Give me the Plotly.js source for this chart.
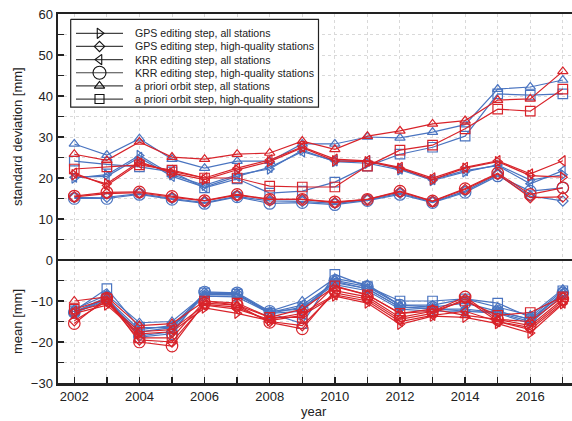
<!DOCTYPE html>
<html>
<head>
<meta charset="utf-8">
<script src="https://cdn.plot.ly/plotly-3.0.1.min.js"></script>
<style>
  html, body { margin: 0; padding: 0; background: #fff; }
  #chart { width: 572px; height: 421px; }
</style>
</head>
<body>
<div id="chart"></div>
<script>
// ---- data -------------------------------------------------------------
const years = [2002, 2003, 2004, 2005, 2006, 2007, 2008, 2009, 2010, 2011, 2012, 2013, 2014, 2015, 2016, 2017];
const xTickVals = [2002, 2004, 2006, 2008, 2010, 2012, 2014, 2016];

// standard deviation [mm]
const sdGpsAllBlue = [20.0, 20.8, 25.5, 20.8, 18.2, 20.8, 22.2, 26.8, 24.0, 23.6, 22.0, 19.4, 21.5, 23.2, 19.5, 20.8];
const sdGpsAllRed  = [20.8, 18.6, 24.0, 21.2, 19.6, 22.0, 24.0, 27.4, 24.2, 24.0, 22.4, 19.6, 22.4, 24.0, 20.6, 20.2];
const sdGpsHqBlue  = [15.2, 15.3, 16.2, 15.0, 14.0, 15.5, 14.4, 14.3, 13.8, 14.6, 16.3, 14.1, 16.8, 20.8, 15.6, 14.4];
const sdGpsHqRed   = [15.4, 16.2, 16.4, 15.3, 14.4, 15.8, 14.8, 14.8, 14.0, 14.8, 16.6, 14.3, 17.2, 21.0, 15.2, 15.4];
const sdKrrAllBlue = [20.2, 20.4, 25.0, 20.4, 17.8, 20.4, 22.6, 26.4, 24.2, 24.2, 22.2, 19.6, 21.8, 23.0, 18.6, 21.8];
const sdKrrAllRed  = [21.2, 18.2, 23.6, 21.6, 20.0, 22.4, 24.4, 27.6, 24.6, 24.2, 22.6, 20.0, 22.6, 24.2, 21.0, 24.2];
const sdKrrHqBlue  = [15.0, 15.0, 16.0, 14.8, 13.8, 15.4, 13.8, 14.0, 13.5, 14.5, 16.0, 14.0, 16.5, 20.5, 16.8, 17.6];
const sdKrrHqRed   = [15.6, 16.5, 16.6, 15.5, 14.5, 16.0, 14.8, 14.8, 14.2, 14.8, 16.8, 14.4, 17.4, 21.2, 16.0, 17.6];
const sdApAllBlue  = [28.3, 25.6, 29.6, 24.6, 22.4, 24.1, 24.1, 28.3, 28.3, 30.0, 29.8, 31.2, 33.0, 41.7, 42.2, 43.9];
const sdApAllRed   = [25.8, 24.3, 28.8, 25.1, 24.6, 25.8, 26.1, 29.0, 27.0, 30.2, 31.5, 33.2, 34.0, 39.0, 39.3, 46.0];
const sdApHqBlue   = [24.1, 23.3, 22.7, 21.5, 17.6, 19.8, 16.3, 16.8, 19.0, 22.9, 25.8, 27.5, 30.2, 40.5, 40.2, 40.5];
const sdApHqRed    = [22.2, 22.7, 23.2, 21.9, 20.0, 20.0, 18.0, 17.8, 17.8, 22.9, 26.8, 28.0, 32.0, 36.8, 36.3, 41.7];

// mean [mm]
const mnGpsAllBlue = [-12.8, -10.0, -17.5, -16.5, -8.8, -9.0, -13.0, -11.5, -6.0, -7.5, -12.0, -12.5, -12.5, -13.0, -15.5, -8.5];
const mnGpsAllRed  = [-13.0, -11.0, -18.0, -17.5, -11.7, -13.0, -14.8, -13.5, -8.8, -10.5, -15.7, -13.7, -14.0, -15.5, -17.8, -10.7];
const mnGpsHqBlue  = [-13.0, -9.5, -18.5, -17.5, -8.0, -8.2, -13.0, -12.5, -5.2, -7.0, -11.5, -11.8, -12.5, -12.5, -14.5, -8.2];
const mnGpsHqRed   = [-14.8, -10.0, -19.5, -20.0, -10.8, -11.5, -15.0, -16.0, -8.0, -9.5, -14.5, -13.0, -9.5, -15.0, -16.5, -10.0];
const mnKrrAllBlue = [-12.5, -9.5, -17.0, -16.0, -8.3, -8.5, -12.8, -11.0, -5.5, -7.0, -11.5, -12.0, -12.0, -12.8, -15.0, -8.0];
const mnKrrAllRed  = [-12.5, -10.5, -17.5, -17.0, -11.0, -12.0, -14.5, -13.0, -8.5, -10.0, -15.0, -13.5, -12.5, -15.0, -17.0, -10.5];
const mnKrrHqBlue  = [-12.8, -9.0, -18.8, -18.0, -7.8, -8.0, -12.5, -12.0, -5.0, -6.5, -11.0, -11.5, -10.5, -12.5, -14.5, -8.0];
const mnKrrHqRed   = [-15.5, -9.3, -20.0, -21.0, -10.5, -11.0, -15.2, -16.8, -7.5, -9.0, -14.0, -12.5, -9.0, -14.5, -16.0, -9.5];
const mnApAllBlue  = [-12.0, -8.5, -15.3, -15.0, -8.5, -8.5, -12.5, -10.0, -4.5, -6.0, -11.0, -11.0, -9.5, -11.5, -13.5, -7.1];
const mnApAllRed   = [-10.0, -9.0, -16.0, -15.5, -10.0, -11.0, -14.0, -12.0, -6.5, -8.5, -13.0, -12.0, -13.5, -14.5, -15.0, -9.0];
const mnApHqBlue   = [-12.4, -7.0, -16.5, -16.5, -8.0, -8.3, -13.0, -15.5, -3.5, -6.5, -10.0, -10.0, -9.5, -10.5, -14.0, -7.5];
const mnApHqRed    = [-12.0, -9.5, -19.0, -19.0, -10.0, -10.5, -14.0, -14.0, -6.3, -8.5, -13.0, -12.5, -10.0, -13.5, -12.8, -9.0];

const seriesNames = [
  'GPS editing step, all stations',
  'GPS editing step, high-quality stations',
  'KRR editing step, all stations',
  'KRR editing step, high-quality stations',
  'a priori orbit step, all stations',
  'a priori orbit step, high-quality stations'
];
const seriesSymbols = ['triangle-right-open', 'diamond-open', 'triangle-left-open',
                       'circle-open', 'triangle-up-open', 'square-open'];

// ---- styling ------------------------------------------------------------
const BLUE = '#4a74c0';
const RED = '#d8232a';
const FONT = 'Liberation Sans, Arial, Helvetica, sans-serif';
const INK = '#222';

// per-symbol marker sizes so the glyphs look about equally large
const dataMarkerSize = [9, 8, 9, 11.5, 9, 9.5];
const keyMarkerSize  = [9, 8, 9, 13, 9, 9];

// plot-area geometry (pixels) used for overlay items
const W = 572, H = 421;
const M = { l: 58, r: 0, t: 14, b: 38 };

const blueSets = [
  [sdGpsAllBlue, mnGpsAllBlue], [sdGpsHqBlue, mnGpsHqBlue], [sdKrrAllBlue, mnKrrAllBlue],
  [sdKrrHqBlue, mnKrrHqBlue], [sdApAllBlue, mnApAllBlue], [sdApHqBlue, mnApHqBlue]
];
const redSets = [
  [sdGpsAllRed, mnGpsAllRed], [sdGpsHqRed, mnGpsHqRed], [sdKrrAllRed, mnKrrAllRed],
  [sdKrrHqRed, mnKrrHqRed], [sdApAllRed, mnApAllRed], [sdApHqRed, mnApHqRed]
];

function seriesTrace(y, color, i) {
  return {
    type: 'scatter', mode: 'lines+markers',
    x: years, y: y,
    line: { color: color, width: 1.2 },
    marker: { symbol: seriesSymbols[i], size: dataMarkerSize[i], color: color,
              line: { color: color, width: 1.2 } },
    showlegend: false, hoverinfo: 'x+y'
  };
}

const traces = [];
[[blueSets, BLUE], [redSets, RED]].forEach(([sets, color]) => {
  sets.forEach(([sd, mn], i) => {
    traces.push(seriesTrace(sd, color, i));
    traces.push(seriesTrace(mn, color, i));
  });
});

// key, drawn on a pixel-space overlay axis pair (x2 / y2)
const keyBox = { x0: 70.7, x1: 318.5, y0: 19.3, y1: 107.2 };
const keyRow0 = 33.3, keyRowStep = 13.15;
const keyLine = { x0: 76, xm: 99.5, x1: 123 };
const keyTextX = 132.5;

// white key panel with a thin dark frame
traces.push({
  type: 'scatter', mode: 'lines', xaxis: 'x2', yaxis: 'y2',
  x: [keyBox.x0, keyBox.x1, keyBox.x1, keyBox.x0, keyBox.x0],
  y: [keyBox.y0, keyBox.y0, keyBox.y1, keyBox.y1, keyBox.y0],
  fill: 'toself', fillcolor: '#fff',
  line: { color: INK, width: 1.2 },
  cliponaxis: false, showlegend: false, hoverinfo: 'skip'
});

seriesNames.forEach((name, i) => {
  const ry = keyRow0 + i * keyRowStep;
  traces.push({
    type: 'scatter', mode: 'lines', xaxis: 'x2', yaxis: 'y2',
    x: [keyLine.x0, keyLine.x1], y: [ry, ry],
    line: { color: '#444', width: 1.2 },
    cliponaxis: false, showlegend: false, hoverinfo: 'skip'
  });
  traces.push({
    type: 'scatter', mode: 'markers', xaxis: 'x2', yaxis: 'y2',
    x: [keyLine.xm], y: [ry],
    marker: { symbol: seriesSymbols[i], size: keyMarkerSize[i], color: '#111',
              line: { color: '#111', width: 1.1 } },
    cliponaxis: false, showlegend: false, hoverinfo: 'skip'
  });
});

const annotations = seriesNames.map((name, i) => ({
  xref: 'x2', yref: 'y2', x: keyTextX, y: keyRow0 + i * keyRowStep,
  xanchor: 'left', yanchor: 'middle', showarrow: false,
  text: name, font: { family: FONT, size: 10.6, color: INK }
}));

// paper-coordinate helpers for the axis captions
const plotW = W - M.l - M.r, plotH = H - M.t - M.b;
const px = (x) => (x - M.l) / plotW;
const py = (y) => (H - M.b - y) / plotH;

annotations.push(
  { xref: 'paper', yref: 'paper', x: px(17), y: py(137), textangle: -90, showarrow: false,
    xanchor: 'center', yanchor: 'middle', text: 'standard deviation [mm]',
    font: { family: FONT, size: 13, color: INK } },
  { xref: 'paper', yref: 'paper', x: px(17), y: py(322), textangle: -90, showarrow: false,
    xanchor: 'center', yanchor: 'middle', text: 'mean [mm]',
    font: { family: FONT, size: 13, color: INK } },
  { xref: 'paper', yref: 'paper', x: px(314), y: py(411), showarrow: false,
    xanchor: 'center', yanchor: 'middle', text: 'year',
    font: { family: FONT, size: 13, color: INK } }
);

const gridStyle = { gridcolor: '#d9d9d9', griddash: 'dot', gridwidth: 1 };

const layout = {
  width: W, height: H,
  margin: M,
  paper_bgcolor: '#fff', plot_bgcolor: '#fff',
  font: { family: FONT, size: 13, color: INK },
  showlegend: false,
  xaxis: {
    range: [2001.5, 2001.5 + plotW / 32.57],
    tickvals: xTickVals, ticktext: xTickVals.map(String),
    ticks: 'inside', ticklen: 6, tickwidth: 1.3, tickcolor: INK,
    showline: true, linecolor: INK, linewidth: 2.5, mirror: true,
    showgrid: true, ...gridStyle,
    minor: { dtick: 1, tick0: 2002, ticks: 'inside', ticklen: 6, tickwidth: 1.3, tickcolor: INK,
             showgrid: true, gridcolor: '#d9d9d9', griddash: 'dot' },
    zeroline: false, tickfont: { family: FONT, size: 13, color: INK }
  },
  yaxis: {
    range: [-30, 60],
    tick0: 0, dtick: 10,
    ticks: 'inside', ticklen: 6, tickwidth: 1.3, tickcolor: INK,
    showline: true, linecolor: INK, linewidth: 2.5,
    showgrid: true, ...gridStyle,
    minor: { dtick: 5, ticks: 'inside', ticklen: 6, tickwidth: 1.3, tickcolor: INK,
             showgrid: true, gridcolor: '#d9d9d9', griddash: 'dot' },
    zeroline: true, zerolinecolor: INK, zerolinewidth: 2,
    tickfont: { family: FONT, size: 13, color: INK }
  },
  xaxis2: { overlaying: 'x', anchor: 'y2', range: [M.l, W - M.r], visible: false, fixedrange: true },
  yaxis2: { overlaying: 'y', anchor: 'x2', range: [H - M.b, M.t], visible: false, fixedrange: true },
  annotations: annotations
};

Plotly.newPlot('chart', traces, layout, { displayModeBar: false, staticPlot: true });
</script>
</body>
</html>
